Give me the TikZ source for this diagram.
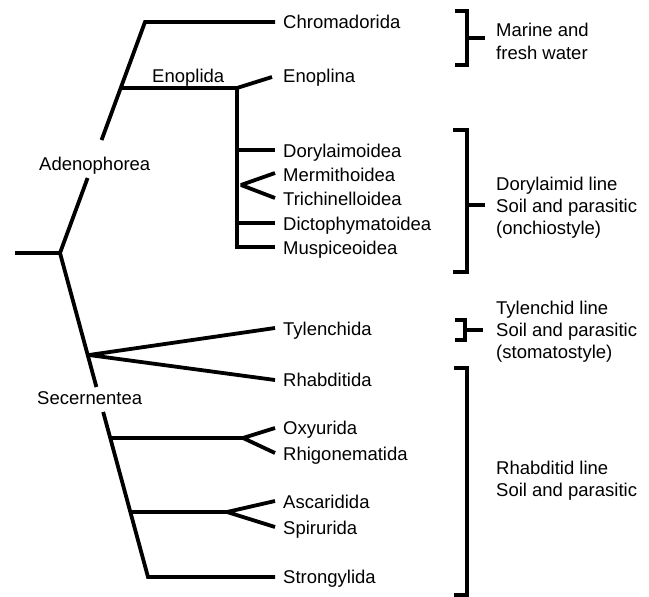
\documentclass[tikz,border=0pt]{standalone}
\usepackage{fontspec}
\setmainfont{Liberation Sans}
\usetikzlibrary{calc}
\newcommand{\stackl}[1]{\begin{tabular}[t]{@{}l@{}}#1\end{tabular}}
\begin{document}
\begin{tikzpicture}[x=1pt,y=-1pt,
  branch/.style={line width=3.8pt},
  fork/.style={branch,line join=bevel},
  brack/.style={line width=3.2pt},
  lbl/.style={anchor=base west,inner sep=0pt,font=\fontsize{18.5}{22}\selectfont},
  grp/.style={lbl}]
\useasboundingbox (0,0) rectangle (649,597);
% ---------- coordinates ----------
\coordinate (r0) at (15,253);
\coordinate (J0) at (60,253);
\coordinate (Atop) at (145,22);
\coordinate (Sbot) at (148,577);
\coordinate (aLow) at ($(J0)!0.3247!(Atop)$);
\coordinate (aHigh) at ($(J0)!0.489!(Atop)$);
\coordinate (sHigh) at ($(J0)!0.4136!(Sbot)$);
\coordinate (sLow) at ($(J0)!0.4907!(Sbot)$);
\coordinate (jEnop) at (121,88);
\coordinate (kEnop) at (237,88);
\coordinate (kMus) at (237,247);
\coordinate (jDor) at (237,150);
\coordinate (jMer) at (241,185);
\coordinate (jDic) at (237,223);
\coordinate (jTyl) at (89,355);
\coordinate (jOxy) at (111,438);
\coordinate (kOxy) at (243,438);
\coordinate (jAsc) at (131,512);
\coordinate (kAsc) at (227,512);
% line ends
\coordinate (eChr) at (275,22);
\coordinate (eEno) at (272,77);
\coordinate (eDor) at (275,150);
\coordinate (eMer) at (275,173);
\coordinate (eTri) at (275,198);
\coordinate (eDic) at (275,223);
\coordinate (eMus) at (275,247);
\coordinate (eTyl) at (275,328);
\coordinate (eRha) at (275,380);
\coordinate (eOxy) at (275,428);
\coordinate (eRhi) at (275,453);
\coordinate (eAsc) at (275,501);
\coordinate (eSpi) at (275,527);
\coordinate (eStr) at (275,577);
% ---------- tree ----------
\draw[branch] (r0) -- (J0) -- (aLow);
\draw[branch] (aHigh) -- (Atop) -- (eChr);
\draw[fork] (jEnop) -- (kEnop) -- (eEno);
\draw[branch] (kEnop) -- (kMus) -- (eMus);
\draw[branch] (jDor) -- (eDor);
\draw[fork] (eMer) -- (jMer) -- (eTri);
\draw[branch] (jDic) -- (eDic);
\draw[branch] (J0) -- (sHigh);
\draw[branch] (sLow) -- (Sbot) -- (eStr);
\draw[fork] (eTyl) -- (jTyl) -- (eRha);
\draw[branch] (jOxy) -- (kOxy);
\draw[fork] (eOxy) -- (kOxy) -- (eRhi);
\draw[branch] (jAsc) -- (kAsc);
\draw[fork] (eAsc) -- (kAsc) -- (eSpi);
% ---------- labels ----------
\node[lbl] (tChr) at (283,28) {Chromadorida};
\node[lbl] (tEnoplida) at (152,82) {Enoplida};
\node[lbl] (tEno) at (283,82) {Enoplina};
\node[lbl] (tAde) at (39,170) {Adenophorea};
\node[lbl] (tDor) at (283,157) {Dorylaimoidea};
\node[lbl] (tMer) at (283,181) {Mermithoidea};
\node[lbl] (tTri) at (283,205) {Trichinelloidea};
\node[lbl] (tDic) at (283,230) {Dictophymatoidea};
\node[lbl] (tMus) at (283,254) {Muspiceoidea};
\node[lbl] (tTyl) at (283,335) {Tylenchida};
\node[lbl] (tRha) at (283,386) {Rhabditida};
\node[lbl] (tSec) at (37,404) {Secernentea};
\node[lbl] (tOxy) at (283,434) {Oxyurida};
\node[lbl] (tRhi) at (283,460) {Rhigonematida};
\node[lbl] (tAsc) at (283,508) {Ascaridida};
\node[lbl] (tSpi) at (283,534) {Spirurida};
\node[lbl] (tStr) at (283,583) {Strongylida};
% ---------- brackets ----------
\coordinate (b1a) at (455,11);  \coordinate (b1b) at (467,11);
\coordinate (b1c) at (467,65);  \coordinate (b1d) at (455,65);
\coordinate (b1m) at (467,38);  \coordinate (b1t) at (485,38);
\draw[brack] (b1a) -- (b1b) -- (b1c) -- (b1d);
\draw[brack] (b1m) -- (b1t);
\coordinate (b2a) at (453,130); \coordinate (b2b) at (467,130);
\coordinate (b2c) at (467,272); \coordinate (b2d) at (453,272);
\coordinate (b2m) at (467,205); \coordinate (b2t) at (485,205);
\draw[brack] (b2a) -- (b2b) -- (b2c) -- (b2d);
\draw[brack] (b2m) -- (b2t);
\coordinate (b3a) at (455,320); \coordinate (b3b) at (465,320);
\coordinate (b3c) at (465,340); \coordinate (b3d) at (455,340);
\coordinate (b3m) at (465,330); \coordinate (b3t) at (483,330);
\draw[brack] (b3a) -- (b3b) -- (b3c) -- (b3d);
\draw[brack] (b3m) -- (b3t);
\coordinate (b4a) at (454,368); \coordinate (b4b) at (467,368);
\coordinate (b4c) at (467,595); \coordinate (b4d) at (454,595);
\draw[brack] (b4a) -- (b4b) -- (b4c) -- (b4d);
% ---------- group texts ----------
\node[grp] (gMar) at (496,37) {\stackl{Marine and\\fresh water}};
\node[grp] (gDor) at (496,190) {\stackl{Dorylaimid line\\Soil and parasitic\\(onchiostyle)}};
\node[grp] (gTyl) at (496,314) {\stackl{Tylenchid line\\Soil and parasitic\\(stomatostyle)}};
\node[grp] (gRha) at (496,474) {\stackl{Rhabditid line\\Soil and parasitic}};
\end{tikzpicture}
\end{document}
